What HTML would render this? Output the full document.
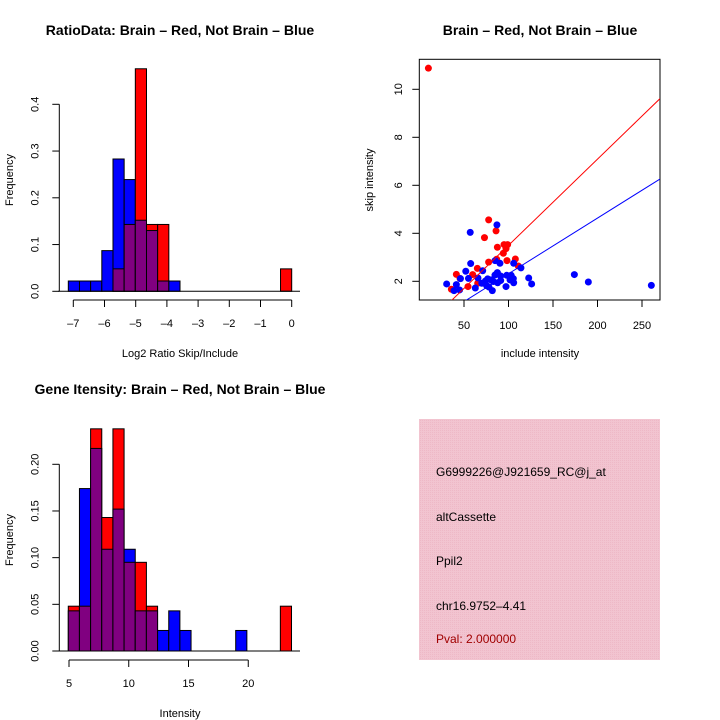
<!DOCTYPE html>
<html><head><meta charset="utf-8">
<style>
html,body{margin:0;padding:0;background:#fff;}
svg{display:block;font-family:"Liberation Sans",Arial,sans-serif;}
</style></head>
<body>
<svg id="c" width="720" height="720" viewBox="0 0 720 720" xmlns="http://www.w3.org/2000/svg">
<rect width="720" height="720" fill="#fff"/>
<defs>
<pattern id="pk" width="2" height="2" patternUnits="userSpaceOnUse">
<rect width="2" height="2" fill="#f2c4d0"/><rect width="1" height="1" fill="#eeb8c6"/>
</pattern>
</defs>
<text x="180" y="35" text-anchor="middle" font-size="14" font-weight="bold">RatioData: Brain – Red, Not Brain – Blue</text>
<text x="540" y="35" text-anchor="middle" font-size="14" font-weight="bold">Brain – Red, Not Brain – Blue</text>
<text x="180" y="394" text-anchor="middle" font-size="14" font-weight="bold">Gene Itensity: Brain – Red, Not Brain – Blue</text>
<g id="g1"></g>
<g id="g2"></g>
<g id="g3"></g>
<g>
<rect x="419" y="419" width="241" height="241" fill="url(#pk)"/>
<text x="436" y="476" font-size="12">G6999226@J921659_RC@j_at</text>
<text x="436" y="521" font-size="12">altCassette</text>
<text x="436" y="565" font-size="12">Ppil2</text>
<text x="436" y="610" font-size="12">chr16.9752–4.41</text>
<text x="436" y="643" font-size="12" fill="#a00000">Pval: 2.000000</text>
</g>
</svg>
<script>
// ---- Ratio histogram data ----
const ratioEdgeStart = -7.16;
const ratioBinWidth = 0.358;
const ratioBlue = [0.022,0.022,0.022,0.087,0.283,0.239,0.152,0.130,0.022,0.022,0,0,0,0,0,0,0,0,0,0];
const ratioRed  = [0,0,0,0,0.048,0.143,0.476,0.143,0.143,0,0,0,0,0,0,0,0,0,0,0.048];
const ratioXTicks = [-7,-6,-5,-4,-3,-2,-1,0];
const ratioYTicks = [0,0.1,0.2,0.3,0.4];
const ratioYLabels = ["0.0","0.1","0.2","0.3","0.4"];
// ---- Intensity histogram data ----
const intEdgeStart = 4.94;
const intBinWidth = 0.934;
const intBlue = [0.043,0.174,0.217,0.109,0.152,0.109,0.043,0.043,0.022,0.043,0.022,0,0,0,0,0.022,0,0,0,0];
const intRed  = [0.048,0.048,0.238,0.143,0.238,0.095,0.095,0.048,0,0,0,0,0,0,0,0,0,0,0,0.048];
const intXTicks = [5,10,15,20];
const intYTicks = [0,0.05,0.10,0.15,0.20];
const intYLabels = ["0.00","0.05","0.10","0.15","0.20"];
// ---- Scatter data ----
const redX = [10,77.7,86,73,87.5,95,99,97.2,94.2,107.7,77.7,98.3,86.7,65,41.4,59.7,111,65.4,54.5,35.8,45.5];
const redY = [10.88,4.56,4.1,3.82,3.42,3.53,3.53,3.36,3.17,2.93,2.8,2.86,2.92,2.54,2.29,2.28,2.64,1.92,1.78,1.67,2.12];
const blueX = [87,57,57.5,85,90.4,105.8,114,52,71,55,65.7,46,30.5,41.4,38.8,45,62.7,74,76.6,80.3,84.8,87.5,91.2,98,103,105.4,105.8,101.7,87.8,81.8,97.2,75.4,70,83,122.7,126,174,189.7,260.5,78,91.2];
const blueY = [4.35,4.04,2.74,2.86,2.75,2.75,2.56,2.42,2.44,2.12,2.14,2.11,1.89,1.86,1.61,1.64,1.72,2.01,2.1,2.06,2.26,2.36,2.22,2.25,2.25,2.11,1.94,2.06,1.94,1.61,1.78,1.82,1.92,1.99,2.14,1.89,2.28,1.97,1.83,1.76,2.03];
const fitSlope = [0.0359,0.0232];   // red, blue
const fitIntercept = [-0.09,-0.006];
const scatterXTicks = [50,100,150,200,250];
const scatterYTicks = [2,4,6,8,10];

const NS="http://www.w3.org/2000/svg";
function mk(parent,tag,attrs,text){const e=document.createElementNS(NS,tag);for(const k in attrs)e.setAttribute(k,attrs[k]);if(text!==undefined)e.textContent=text;parent.appendChild(e);return e;}

function hist(g,o){
  const sx=v=>o.x0px+(v-o.x0v)*o.xk;
  const sy=v=>o.base-v*o.yk;
  for(let i=0;i<o.blue.length;i++){
    const a=o.edge+i*o.w, b=a+o.w, bl=o.blue[i], rd=o.red[i];
    const x1=sx(a), x2=sx(b);
    const mx=Math.max(bl,rd), mn=Math.min(bl,rd);
    if(mx>0){
      const r=mk(g,'rect',{x:x1,y:sy(mx),width:x2-x1,height:sy(0)-sy(mx),fill:bl>=rd?'#0000ff':'#ff0000',stroke:'#000','stroke-width':1});
      
      
    }
    if(mn>0){
      const r=mk(g,'rect',{x:x1,y:sy(mn),width:x2-x1,height:sy(0)-sy(mn),fill:'#800080',stroke:'#000','stroke-width':1});
      
      
    }
  }
  const ya=mk(g,'line',{x1:o.yaxX,x2:o.yaxX,y1:sy(o.yt[0]),y2:sy(o.yt[o.yt.length-1]),stroke:'#000'});
  
  
  o.yt.forEach((v,i)=>{
    mk(g,'line',{x1:o.yaxX-7,x2:o.yaxX,y1:sy(v),y2:sy(v),stroke:'#000'});
    const t=mk(g,'text',{x:0,y:0,'font-size':11,'text-anchor':'middle',transform:`translate(${o.yaxX-21},${sy(v)}) rotate(-90)`},o.yl[i]);
    
    
  });
  const xa=mk(g,'line',{x1:sx(o.xt[0]),x2:sx(o.xt[o.xt.length-1]),y1:o.xaxY,y2:o.xaxY,stroke:'#000'});
  
  
  o.xt.forEach(v=>{
    mk(g,'line',{x1:sx(v),x2:sx(v),y1:o.xaxY,y2:o.xaxY+7,stroke:'#000'});
    const t=mk(g,'text',{x:sx(v),y:o.xaxY+27,'font-size':11,'text-anchor':'middle'},v<0?'–'+(-v):String(v));
    
    
  });
  mk(g,'line',{x1:o.yaxX-1,x2:o.plotR,y1:sy(0),y2:sy(0),stroke:'#000'});
  const xt=mk(g,'text',{x:o.xtitleX,y:o.xtitleY,'font-size':11,'text-anchor':'middle'},o.xtitle);
  
  
  const yt=mk(g,'text',{x:0,y:0,'font-size':11,'text-anchor':'middle',transform:`translate(13,${o.ytitleY}) rotate(-90)`},'Frequency');
  
  
}

hist(document.getElementById('g1'),{x0px:291.7,x0v:0,xk:31.2,base:291.3,yk:467.5,edge:ratioEdgeStart,w:ratioBinWidth,blue:ratioBlue,red:ratioRed,yt:ratioYTicks,yl:ratioYLabels,xt:ratioXTicks,yaxX:59.3,xaxY:300,plotR:300,xtitle:'Log2 Ratio Skip/Include',xtitleX:180,xtitleY:357,ytitleY:180});
hist(document.getElementById('g3'),{x0px:69,x0v:5,xk:11.95,base:651,yk:933.5,edge:intEdgeStart,w:intBinWidth,blue:intBlue,red:intRed,yt:intYTicks,yl:intYLabels,xt:intXTicks,yaxX:59.3,xaxY:660,plotR:300,xtitle:'Intensity',xtitleX:180,xtitleY:717,ytitleY:540});

(function(){
  const g=document.getElementById('g2');
  const sx=v=>464+(v-50)*0.89;
  const sy=v=>281.3-(v-2)*24;
  const xmin=-0.2,xmax=270.2;
  const box=mk(g,'rect',{x:419.3,y:59.3,width:240.7,height:240.7,fill:'none',stroke:'#000'});
  
  
  const cp=mk(g,'clipPath',{id:'sc'});mk(cp,'rect',{x:419.3,y:59.3,width:240.7,height:240.7});
  const pts=mk(g,'g',{'clip-path':'url(#sc)'});
  redX.forEach((x,i)=>{const c=mk(pts,'circle',{cx:sx(x),cy:sy(redY[i]),r:3.5,fill:'#ff0000'});
    
    });
  blueX.forEach((x,i)=>{const c=mk(pts,'circle',{cx:sx(x),cy:sy(blueY[i]),r:3.5,fill:'#0000ff'});
    
    });
  ['#ff0000','#0000ff'].forEach((col,i)=>{
    const l=mk(pts,'line',{x1:sx(xmin),y1:sy(fitIntercept[i]+fitSlope[i]*xmin),x2:sx(xmax),y2:sy(fitIntercept[i]+fitSlope[i]*xmax),stroke:col,'stroke-width':1});
    
    
  });
  scatterXTicks.forEach(v=>{
    mk(g,'line',{x1:sx(v),x2:sx(v),y1:300,y2:307,stroke:'#000'});
    const t=mk(g,'text',{x:sx(v),y:329,'font-size':11,'text-anchor':'middle'},String(v));
    
    
  });
  scatterYTicks.forEach(v=>{
    mk(g,'line',{x1:412.3,x2:419.3,y1:sy(v),y2:sy(v),stroke:'#000'});
    const t=mk(g,'text',{x:0,y:0,'font-size':11,'text-anchor':'middle',transform:`translate(402,${sy(v)}) rotate(-90)`},String(v));
    
    
  });
  const xt=mk(g,'text',{x:540,y:357,'font-size':11,'text-anchor':'middle'},'include intensity');
  
  
  const yt=mk(g,'text',{x:0,y:0,'font-size':11,'text-anchor':'middle',transform:'translate(373,180) rotate(-90)'},'skip intensity');
  
  
})();
</script>
</body></html>
